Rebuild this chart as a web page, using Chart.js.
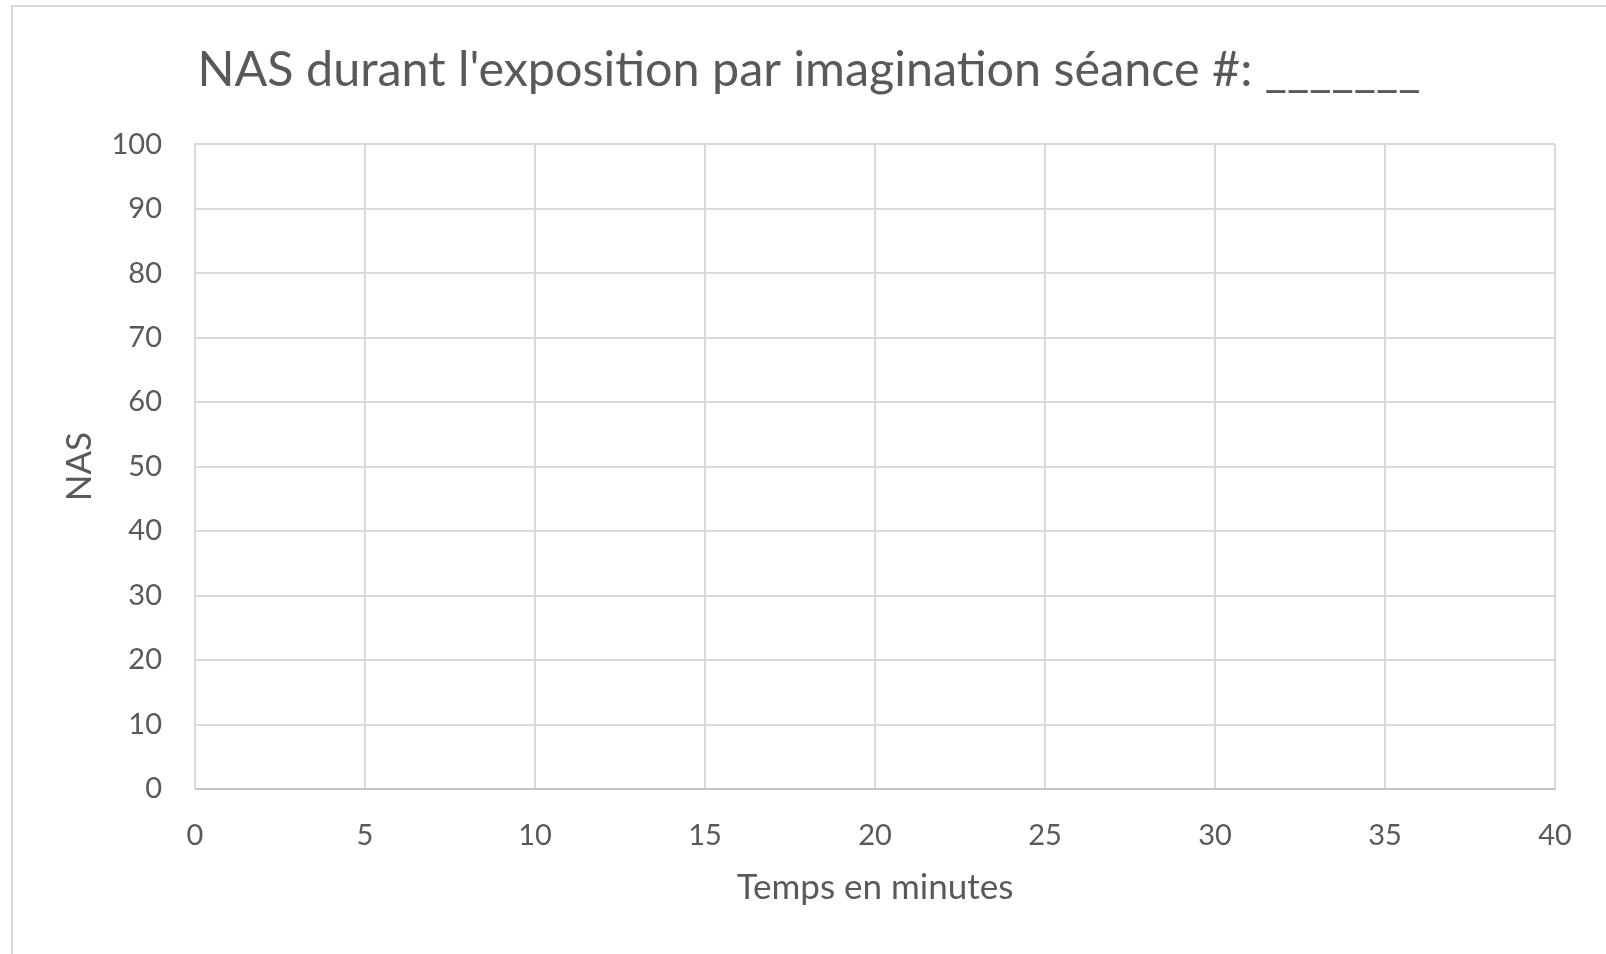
<!DOCTYPE html>
<html>
<head>
<meta charset="utf-8">
<script src="https://cdn.jsdelivr.net/npm/chart.js@4.4.1/dist/chart.umd.min.js"></script>
<style>
  body { margin: 0; background: #fff; overflow: hidden; }
  #frame {
    position: absolute; left: 11px; top: 5px; width: 1700px; height: 1100px;
    border-left: 2px solid #d9d9d9; border-top: 2px solid #d9d9d9;
  }
  #nasChart { position: absolute; left: 0; top: 0; }
</style>
</head>
<body>
<div id="frame"></div>
<canvas id="nasChart" width="1606" height="954"></canvas>
<script>
// Blank worksheet chart: NAS rating over time (no values filled in yet)
const minuteTicks = [0, 5, 10, 15, 20, 25, 30, 35, 40];
const nasTicks = [0, 10, 20, 30, 40, 50, 60, 70, 80, 90, 100];
const nasValues = []; // to be filled in during the session

const textColor = '#595959';
const gridColor = '#d9d9d9';
const fontFamily = 'Lato, "Open Sans", sans-serif';

const ctx = document.getElementById('nasChart').getContext('2d');

const nasChart = new Chart(ctx, {
    type: 'scatter',
    data: {
        datasets: [{
            label: 'NAS',
            data: nasValues,
            borderColor: '#4472c4',
            backgroundColor: '#4472c4',
            showLine: true
        }]
    },
    options: {
        responsive: false,
        animation: false,
        layout: { padding: { left: 12, right: 0, top: 0, bottom: 0 } },
        plugins: {
            legend: { display: false },
            tooltip: { enabled: false },
            title: {
                display: true,
                text: "NAS durant l'exposition par imagination séance #: _______",
                color: textColor,
                font: { family: fontFamily, size: 48.5, weight: 'normal' },
                padding: { top: 41, bottom: 45 }
            }
        },
        scales: {
            x: {
                type: 'linear',
                min: minuteTicks[0],
                max: minuteTicks[minuteTicks.length - 1],
                afterBuildTicks: (scale) => {
                    scale.ticks = minuteTicks.map(v => ({ value: v }));
                },
                afterFit: (scale) => {
                    scale.height = 165;
                    scale.paddingRight = 51;
                },
                ticks: {
                    color: textColor,
                    font: { family: fontFamily, size: 29 },
                    padding: 29,
                    maxRotation: 0
                },
                grid: { color: gridColor, lineWidth: 2, drawTicks: false },
                border: { color: '#c4c4c4', width: 2 },
                title: {
                    display: true,
                    text: 'Temps en minutes',
                    color: textColor,
                    font: { family: fontFamily, size: 35 },
                    padding: { top: 0, bottom: 45 }
                }
            },
            y: {
                type: 'linear',
                min: nasTicks[0],
                max: nasTicks[nasTicks.length - 1],
                afterBuildTicks: (scale) => {
                    scale.ticks = nasTicks.map(v => ({ value: v }));
                },
                afterFit: (scale) => {
                    scale.width = 183;
                },
                ticks: {
                    color: textColor,
                    font: { family: fontFamily, size: 29 },
                    padding: 33
                },
                grid: { color: gridColor, lineWidth: 2, drawTicks: false },
                border: { color: gridColor, width: 2 },
                title: {
                    display: true,
                    text: 'NAS',
                    color: textColor,
                    font: { family: fontFamily, size: 35 },
                    padding: { top: 47, bottom: 0 }
                }
            }
        }
    }
});
</script>
</body>
</html>
